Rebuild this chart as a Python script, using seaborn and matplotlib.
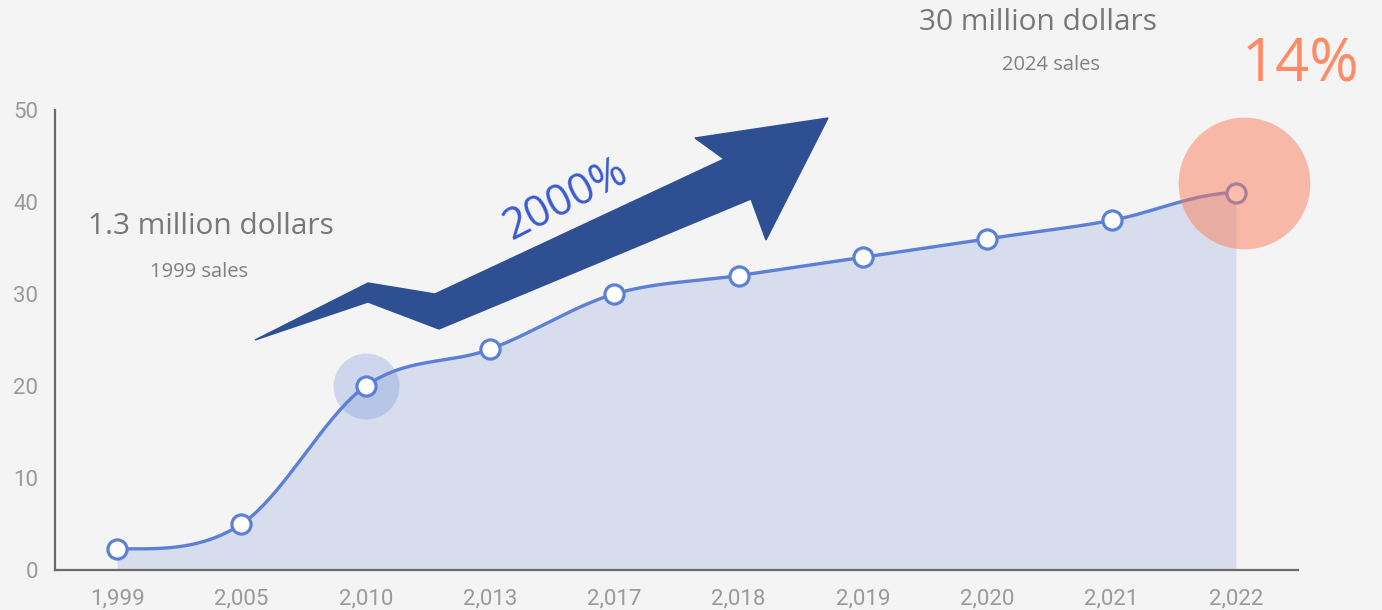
import numpy as np
import pandas as pd
import seaborn as sns
import matplotlib.pyplot as plt
from matplotlib.patches import Polygon
from matplotlib.transforms import offset_copy

# ---- data ----
years = [1999, 2005, 2010, 2013, 2017, 2018, 2019, 2020, 2021, 2022]
sales = [2.3, 5.0, 20.0, 24.0, 30.0, 32.0, 34.0, 36.0, 38.0, 41.0]
y_ticks = [0, 10, 20, 30, 40, 50]
x_labels = [f"{y:,}" for y in years]

BG = "#f4f4f4"
LINE = "#5b80d5"
FILL = "#d7ddec"
W, H = 1382, 610

sns.set_theme(style="white", rc={"axes.facecolor": BG, "figure.facecolor": BG})
plt.rcParams["font.family"] = ["Open Sans", "DejaVu Sans"]


def smooth_curve(x, y, n=40):
    """Hermite spline through the points, flat at both ends."""
    x = np.asarray(x, float)
    y = np.asarray(y, float)
    m = np.zeros_like(y)
    m[1:-1] = (y[2:] - y[:-2]) / (x[2:] - x[:-2])
    xs, ys = [], []
    t = np.linspace(0, 1, n)
    h00 = 2 * t**3 - 3 * t**2 + 1
    h10 = t**3 - 2 * t**2 + t
    h01 = -2 * t**3 + 3 * t**2
    h11 = t**3 - t**2
    for i in range(len(x) - 1):
        h = x[i + 1] - x[i]
        xs.append(x[i] + t * h)
        ys.append(h00 * y[i] + h10 * h * m[i] + h01 * y[i + 1] + h11 * h * m[i + 1])
    return np.concatenate(xs), np.concatenate(ys)


def px(x, y):
    """pixel position -> figure fraction"""
    return x / W, 1 - y / H


df = pd.DataFrame({"pos": np.arange(len(years)), "sales": sales})
xs, ys = smooth_curve(df["pos"], df["sales"])

fig = plt.figure(figsize=(W / 100, H / 100), dpi=100)
ax = fig.add_axes([55 / W, 40 / H, 1243 / W, 460 / H])

ax.fill_between(xs, ys, color=FILL, lw=0, zorder=1)
# soft highlight behind 2010
ax.scatter(2, sales[2], s=2250, color=LINE, alpha=0.25, lw=0, zorder=2)
sns.lineplot(x=xs, y=ys, sort=False, estimator=None, color=LINE, lw=2.4, ax=ax, zorder=3)
sns.scatterplot(data=df, x="pos", y="sales", s=190, color="white",
                edgecolor=LINE, linewidth=2.3, ax=ax, zorder=4, clip_on=False)
# big orange circle on 2022
ax.scatter(9, sales[-1], s=9000, color="#fb7d5b", alpha=0.5, lw=0, zorder=6,
           clip_on=False,
           transform=offset_copy(ax.transData, fig=fig, x=8, y=10, units="dots"))

ax.set_xlim(-0.5, len(years) - 0.5)
ax.set_ylim(0, 50)
ax.set_xticks(df["pos"])
ax.set_xticklabels(x_labels)
ax.set_yticks(y_ticks)
ax.set_xlabel("")
ax.set_ylabel("")
ax.tick_params(length=0, labelsize=16, labelcolor="#9a9a9a")
ax.tick_params(axis="x", pad=13)
ax.tick_params(axis="y", pad=12)
for lab in ax.get_xticklabels() + ax.get_yticklabels():
    lab.set_fontfamily("Roboto")
sns.despine(ax=ax)
for side in ["left", "bottom"]:
    ax.spines[side].set_color("#6a6a6a")
    ax.spines[side].set_linewidth(1.6)

# ---- zig-zag arrow ----
arrow_px = [(255, 340), (368, 283), (435, 294), (724, 159), (695, 138),
            (828, 118), (766, 240), (751, 199), (439, 329), (368, 302)]
fig.patches.append(Polygon([px(*p) for p in arrow_px], closed=True,
                           transform=fig.transFigure, color="#2e5093", zorder=5))

# ---- annotations ----
fig.text(*px(211, 227), "1.3 million dollars", fontsize=21.5, color="#777777",
         ha="center", va="center")
fig.text(*px(199, 272), "1999 sales", fontsize=14.5, color="#808080",
         ha="center", va="center")
fig.text(*px(1038, 22), "30 million dollars", fontsize=21.5, color="#777777",
         ha="center", va="center")
fig.text(*px(1051, 65), "2024 sales", fontsize=14.5, color="#808080",
         ha="center", va="center")
fig.text(*px(1300, 66), "14%", fontsize=43, color="#ff8a65",
         ha="center", va="center")
fig.text(*px(566, 200), "2000%", fontsize=31, color="#3a5bd0",
         ha="center", va="center", rotation=27, rotation_mode="anchor")

plt.savefig("out.png", dpi=100, facecolor=BG)
plt.close()
